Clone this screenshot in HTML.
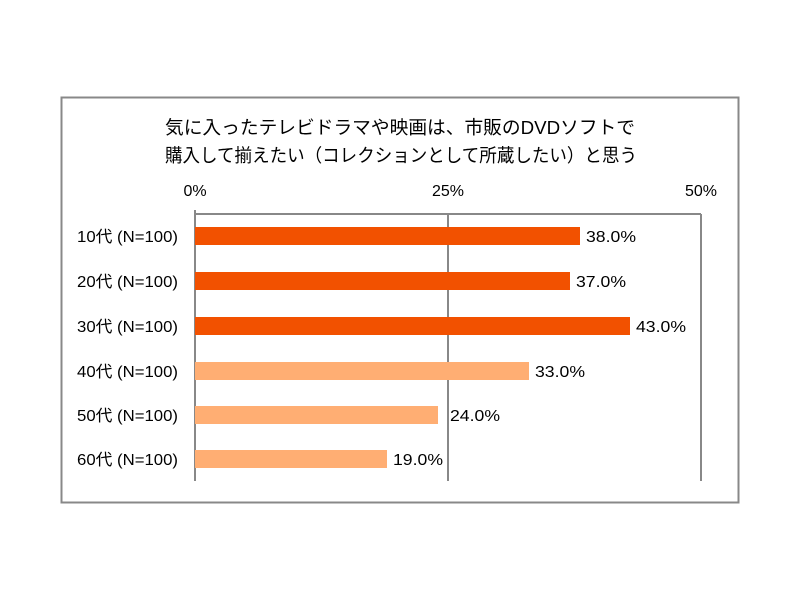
<!DOCTYPE html>
<html><head><meta charset="utf-8"><style>
html,body{margin:0;padding:0;background:#fff;}
svg text{font-family:"Liberation Sans","Noto Sans CJK JP",sans-serif;fill:#000;}
</style></head><body>
<svg width="800" height="600" viewBox="0 0 800 600" xmlns="http://www.w3.org/2000/svg">
<rect x="61.5" y="97.5" width="677" height="405" fill="#fff" stroke="#888" stroke-width="2"/>
<text x="165" y="134" font-size="18.5" textLength="470" lengthAdjust="spacingAndGlyphs">気に入ったテレビドラマや映画は、市販のDVDソフトで</text>
<text x="165" y="162" font-size="18.5" textLength="472" lengthAdjust="spacingAndGlyphs">購入して揃えたい（コレクションとして所蔵したい）と思う</text>
<text x="195" y="196" font-size="16" text-anchor="middle">0%</text>
<text x="448" y="196" font-size="16" text-anchor="middle">25%</text>
<text x="701" y="196" font-size="16" text-anchor="middle">50%</text>
<g stroke="#888" stroke-width="2">
<line x1="195" y1="214" x2="701" y2="214"/>
<line x1="195" y1="210" x2="195" y2="481"/>
<line x1="448" y1="214" x2="448" y2="481"/>
<line x1="701" y1="214" x2="701" y2="481"/>
</g>
<g fill="#F25100">
<rect x="195" y="227" width="385" height="18"/>
<rect x="195" y="272" width="375" height="18"/>
<rect x="195" y="317" width="435" height="18"/>
</g>
<g fill="#FFAE73">
<rect x="195" y="362" width="334" height="18"/>
<rect x="195" y="406" width="243" height="18"/>
<rect x="195" y="450" width="192" height="18"/>
</g>
<g font-size="16">
<text x="586" y="242" textLength="50" lengthAdjust="spacingAndGlyphs">38.0%</text>
<text x="576" y="287" textLength="50" lengthAdjust="spacingAndGlyphs">37.0%</text>
<text x="636" y="332" textLength="50" lengthAdjust="spacingAndGlyphs">43.0%</text>
<text x="535" y="377" textLength="50" lengthAdjust="spacingAndGlyphs">33.0%</text>
<text x="450" y="421" textLength="50" lengthAdjust="spacingAndGlyphs">24.0%</text>
<text x="393" y="465" textLength="50" lengthAdjust="spacingAndGlyphs">19.0%</text>
</g>
<g font-size="16">
<text x="77" y="242" textLength="101" lengthAdjust="spacingAndGlyphs">10代 (N=100)</text>
<text x="77" y="287" textLength="101" lengthAdjust="spacingAndGlyphs">20代 (N=100)</text>
<text x="77" y="332" textLength="101" lengthAdjust="spacingAndGlyphs">30代 (N=100)</text>
<text x="77" y="377" textLength="101" lengthAdjust="spacingAndGlyphs">40代 (N=100)</text>
<text x="77" y="421" textLength="101" lengthAdjust="spacingAndGlyphs">50代 (N=100)</text>
<text x="77" y="465" textLength="101" lengthAdjust="spacingAndGlyphs">60代 (N=100)</text>
</g>
</svg>
</body></html>
